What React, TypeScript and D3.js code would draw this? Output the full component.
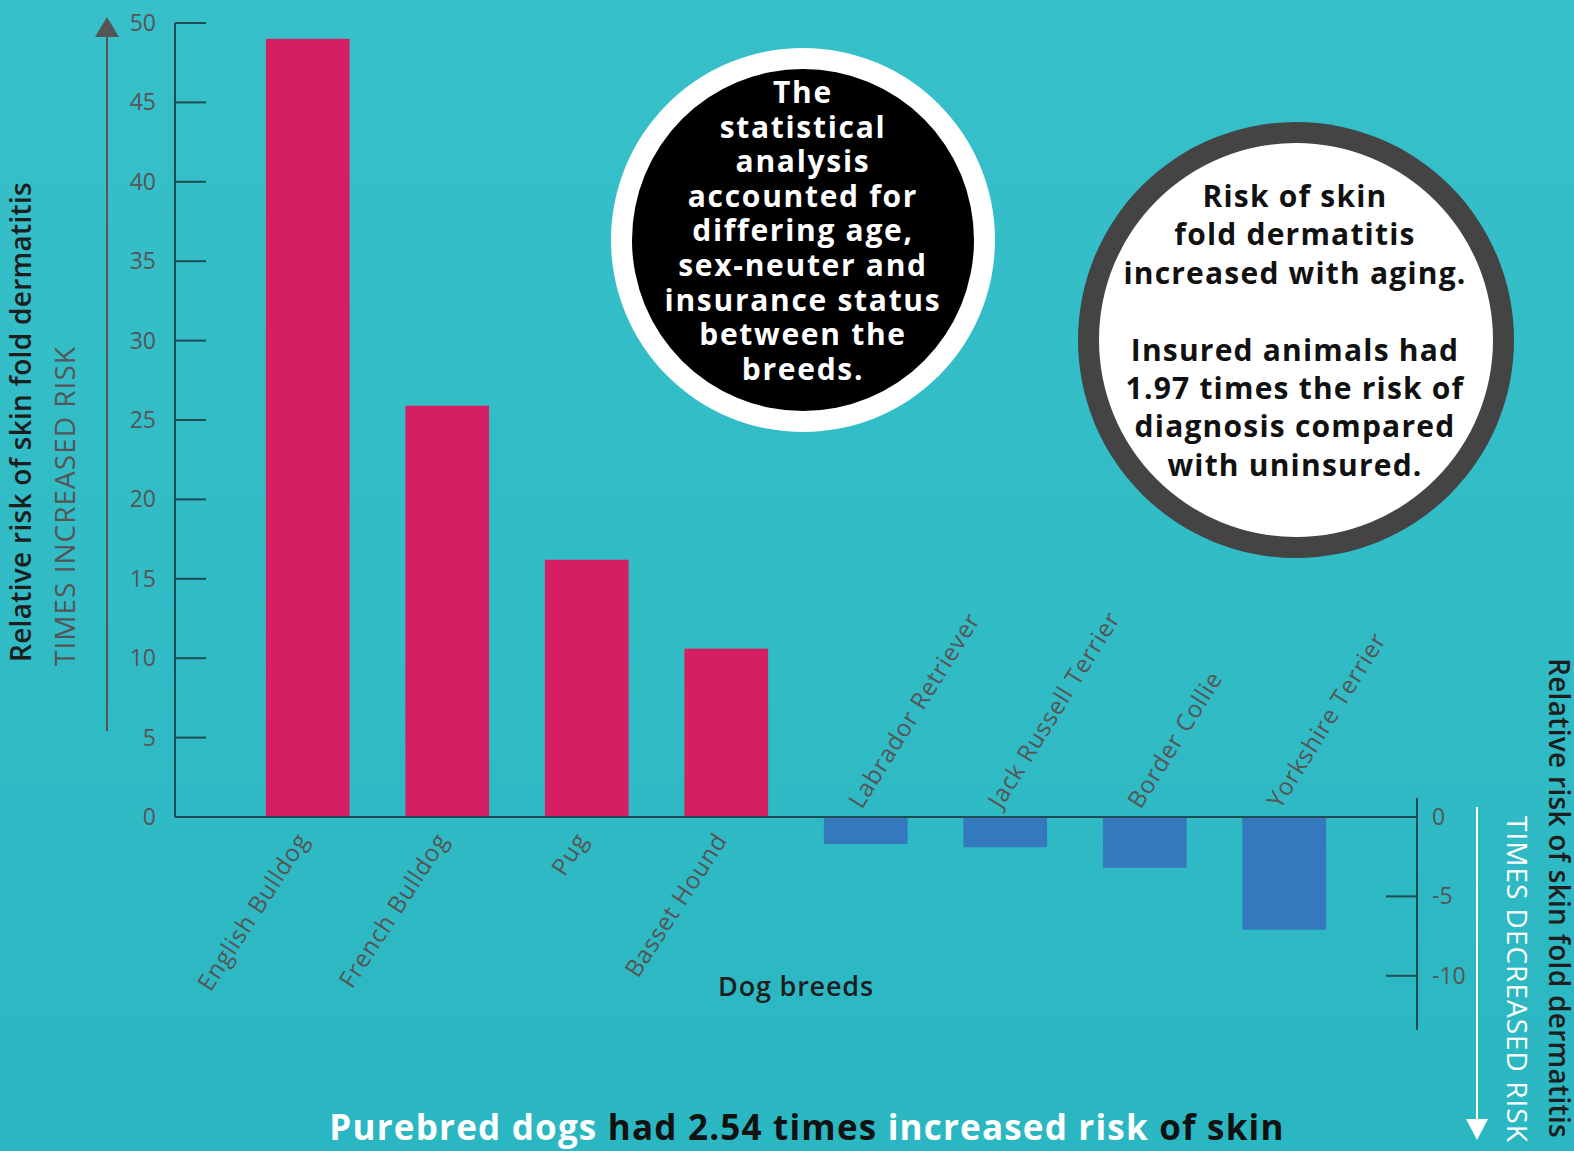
import React from "react";
import * as d3 from "d3";

const breeds = [
  "English Bulldog",
  "French Bulldog",
  "Pug",
  "Basset Hound",
  "Labrador Retriever",
  "Jack Russell Terrier",
  "Border Collie",
  "Yorkshire Terrier",
];
const relativeRisk = [49.0, 25.9, 16.2, 10.6, -1.7, -1.9, -3.2, -7.1];
const leftTicks = [0, 5, 10, 15, 20, 25, 30, 35, 40, 45, 50];
const rightTicks = [0, -5, -10];
const blackCircleLines = [
  "The",
  "statistical",
  "analysis",
  "accounted for",
  "differing age,",
  "sex-neuter and",
  "insurance status",
  "between the",
  "breeds.",
];
const whiteCircleLines = [
  "Risk of skin",
  "fold dermatitis",
  "increased with aging.",
  "",
  "Insured animals had",
  "1.97 times the risk of",
  "diagnosis compared",
  "with uninsured.",
];

const W = 1574;
const H = 1151;
const FONT = "'Open Sans', 'Noto Sans', sans-serif";

export default function App() {
  const x = d3.scaleBand<string>().domain(breeds).range([178, 1414]).paddingInner(0.4).paddingOuter(0.63);
  const y = d3.scaleLinear().domain([0, 50]).range([817, 23]);
  const bw = x.bandwidth();
  const axisColor = "#1f4c50";

  return (
    <svg width={W} height={H} style={{ position: "absolute", left: 0, top: 0 }} fontFamily={FONT}>
      <defs>
        <linearGradient id="bg" x1="0" y1="0" x2="0" y2="1">
          <stop offset="0" stopColor="#37c0ca" />
          <stop offset="1" stopColor="#2bb7c2" />
        </linearGradient>
      </defs>
      <rect x={0} y={0} width={W} height={H} fill="url(#bg)" />

      {/* bars */}
      {breeds.map((b, i) => {
        const v = relativeRisk[i];
        return (
          <rect
            key={b}
            x={x(b)}
            y={Math.min(y(v), y(0))}
            width={bw}
            height={Math.abs(y(v) - y(0))}
            fill={v >= 0 ? "#d61e63" : "#3478be"}
          />
        );
      })}

      {/* baseline */}
      <line x1={175} x2={1417} y1={y(0)} y2={y(0)} stroke={axisColor} strokeWidth={2} />

      {/* left axis */}
      <line x1={175} x2={175} y1={y(50)} y2={y(0)} stroke={axisColor} strokeWidth={2} />
      {leftTicks.map((t) => (
        <g key={t}>
          <line x1={175} x2={206} y1={y(t)} y2={y(t)} stroke={axisColor} strokeWidth={2} />
          <text x={156} y={y(t)} dy="0.35em" textAnchor="end" fontSize={23} fill="#555">
            {t}
          </text>
        </g>
      ))}

      {/* right axis */}
      <line x1={1417} x2={1417} y1={798} y2={1030} stroke={axisColor} strokeWidth={2} />
      {rightTicks.map((t) => (
        <g key={t}>
          {t !== 0 && <line x1={1386} x2={1417} y1={y(t)} y2={y(t)} stroke={axisColor} strokeWidth={2} />}
          <text x={1432} y={y(t)} dy="0.35em" textAnchor="start" fontSize={23} fill="#555">
            {t}
          </text>
        </g>
      ))}

      {/* category labels */}
      {breeds.map((b, i) => {
        const cx = (x(b) as number) + bw / 2;
        const v = relativeRisk[i];
        if (v >= 0) {
          return (
            <text
              key={b}
              transform={`translate(${cx + 2},${840}) rotate(-57)`}
              textAnchor="end"
              fontSize={24}
              letterSpacing={0.8}
              fill="#555"
            >
              {b}
            </text>
          );
        }
        return (
          <text
            key={b}
            transform={`translate(${cx - 4},${810}) rotate(-58)`}
            textAnchor="start"
            fontSize={24}
            letterSpacing={0.8}
            fill="#555"
          >
            {b}
          </text>
        );
      })}

      <text x={796} y={996} textAnchor="middle" fontSize={27} fontWeight={600} letterSpacing={0.8} fill="#1e1e1e">
        Dog breeds
      </text>

      {/* left axis titles and arrow */}
      <text transform="translate(31,422) rotate(-90)" textAnchor="middle" fontSize={28} fontWeight={600} letterSpacing={0.3} fill="#1e1e1e">
        Relative risk of skin fold dermatitis
      </text>
      <text transform="translate(75,506) rotate(-90)" textAnchor="middle" fontSize={28} letterSpacing={1} fill="#555">
        TIMES INCREASED RISK
      </text>
      <line x1={107} x2={107} y1={731} y2={36} stroke="#555" strokeWidth={2} />
      <path d="M95,37 L107,17 L119,37 Z" fill="#555" />

      {/* right axis titles and arrow */}
      <text transform="translate(1549,658) rotate(90)" textAnchor="start" fontSize={28} fontWeight={600} letterSpacing={0.3} fill="#1e1e1e">
        Relative risk of skin fold dermatitis
      </text>
      <text transform="translate(1507,816) rotate(90)" textAnchor="start" fontSize={28} letterSpacing={1} fill="#ffffff">
        TIMES DECREASED RISK
      </text>
      <line x1={1477} x2={1477} y1={807} y2={1122} stroke="#ffffff" strokeWidth={2} />
      <path d="M1466,1119 L1477,1140 L1488,1119 Z" fill="#ffffff" />

      {/* black circle */}
      <circle cx={803} cy={240} r={192} fill="#ffffff" />
      <circle cx={803} cy={240} r={171} fill="#000000" />
      {blackCircleLines.map((l, i) => (
        <text key={i} x={803} y={103 + i * 34.6} textAnchor="middle" fontSize={30} fontWeight={700} letterSpacing={1.7} fill="#ffffff">
          {l}
        </text>
      ))}

      {/* white circle */}
      <circle cx={1296} cy={340} r={218} fill="#444444" />
      <circle cx={1296} cy={340} r={197} fill="#ffffff" />
      {whiteCircleLines.map((l, i) => (
        <text key={i} x={1295} y={207 + i * 38.4} textAnchor="middle" fontSize={30} fontWeight={700} letterSpacing={1.2} fill="#111">
          {l}
        </text>
      ))}

      {/* bottom statement */}
      <text x={807} y={1140} textAnchor="middle" fontSize={35} fontWeight={700} letterSpacing={1.2}>
        <tspan fill="#ffffff">Purebred dogs </tspan>
        <tspan fill="#111">had 2.54 times </tspan>
        <tspan fill="#ffffff">increased risk </tspan>
        <tspan fill="#111">of skin</tspan>
      </text>
    </svg>
  );
}
